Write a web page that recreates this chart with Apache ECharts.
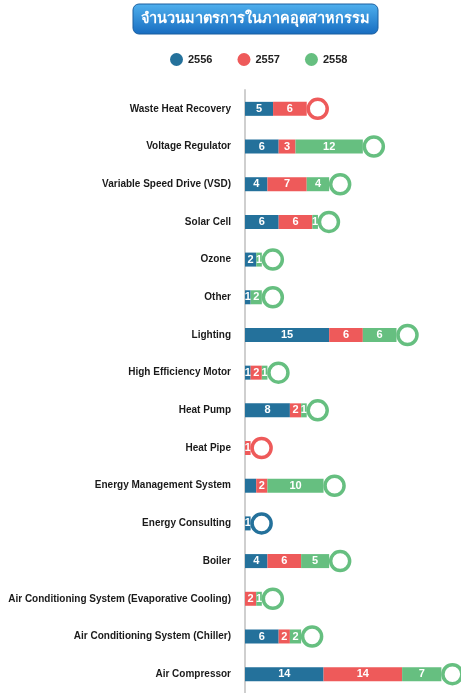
<!DOCTYPE html>
<html>
<head>
<meta charset="utf-8">
<title>จำนวนมาตรการในภาคอุตสาหกรรม</title>
<script src="https://cdn.jsdelivr.net/npm/echarts@6/dist/echarts.min.js"></script>
<style>
  html, body { margin: 0; padding: 0; background: #fff; }
  #chart { width: 461px; height: 693px; }
</style>
</head>
<body>
<div id="chart"></div>
<script>
// categories, top to bottom
var categories = [
  'Waste Heat Recovery',
  'Voltage Regulator',
  'Variable Speed Drive (VSD)',
  'Solar Cell',
  'Ozone',
  'Other',
  'Lighting',
  'High Efficiency Motor',
  'Heat Pump',
  'Heat Pipe',
  'Energy Management System',
  'Energy Consulting',
  'Boiler',
  'Air Conditioning System (Evaporative Cooling)',
  'Air Conditioning System (Chiller)',
  'Air Compressor'
];
var years = ['2556', '2557', '2558'];
var y2556 = [5, 6, 4, 6, 2, 1, 15, 1, 8, 0, 2, 1, 4, 0, 6, 14];
var y2557 = [6, 3, 7, 6, 0, 0, 6, 2, 2, 1, 2, 0, 6, 2, 2, 14];
var y2558 = [0, 12, 4, 1, 1, 2, 6, 1, 1, 0, 10, 0, 5, 1, 2, 7];
// segments drawn without a number in the original
var noLabel2556 = ['Energy Management System'];

var colors = ['#24719b', '#ee5a5a', '#66bf80'];
var seriesData = [y2556, y2557, y2558];

var myChart = echarts.init(document.getElementById('chart'));

function barItems(arr, hide) {
  return arr.map(function (v, i) {
    if (hide && hide.indexOf(categories[i]) >= 0) {
      return { value: v, label: { show: false } };
    }
    return v;
  });
}

// end cap sits after the stack, coloured like the last year that has a value
var caps = categories.map(function (c, i) {
  var total = 0, last = 0;
  seriesData.forEach(function (arr, k) {
    total += arr[i];
    if (arr[i] > 0) last = k;
  });
  return { value: total, itemStyle: { borderColor: colors[last] } };
});

var series = years.map(function (y, k) {
  return {
    name: y,
    type: 'bar',
    stack: 'all',
    barWidth: 14,
    data: barItems(seriesData[k], k === 0 ? noLabel2556 : null),
    itemStyle: { color: colors[k] },
    label: {
      show: true,
      position: 'inside',
      color: '#fff',
      fontSize: 11,
      fontWeight: 'bold',
      fontFamily: 'Liberation Sans',
      formatter: function (p) { return p.value > 0 ? p.value : ''; }
    }
  };
});
series.push({
  type: 'scatter',
  data: caps,
  symbol: 'circle',
  symbolSize: 19,
  symbolOffset: [11, 0],
  z: 5,
  silent: true,
  itemStyle: { color: '#fff', borderWidth: 3.5, opacity: 1 }
});

myChart.setOption({
  animation: false,
  color: colors,
  graphic: [
    {
      type: 'rect',
      shape: { x: 133, y: 4, width: 245, height: 30, r: 6 },
      style: {
        fill: new echarts.graphic.LinearGradient(0, 0, 0, 1, [
          { offset: 0, color: '#4fb0ee' },
          { offset: 1, color: '#176cc0' }
        ]),
        stroke: '#1b5f9f',
        lineWidth: 1
      }
    },
    {
      type: 'text',
      x: 255.5,
      y: 19,
      style: {
        text: 'จำนวนมาตรการในภาคอุตสาหกรรม',
        fill: '#fff',
        font: 'bold 14.5px "Noto Sans", "DejaVu Sans", sans-serif',
        align: 'center',
        verticalAlign: 'middle'
      }
    }
  ],
  legend: {
    data: years,
    top: 48,
    left: 165,
    icon: 'circle',
    itemWidth: 13,
    itemHeight: 13,
    itemGap: 25,
    textStyle: { color: '#222', fontSize: 11, fontWeight: 'bold', fontFamily: 'Liberation Sans' }
  },
  grid: { left: 245, right: 14, top: 90, height: 604, containLabel: false },
  xAxis: {
    type: 'value',
    min: 0,
    max: 36,
    show: false
  },
  yAxis: {
    type: 'category',
    data: categories,
    inverse: true,
    axisLine: { show: true, lineStyle: { color: '#cfcfcf', width: 2 } },
    axisTick: { show: false },
    axisLabel: {
      margin: 14,
      color: '#1a1a1a',
      fontSize: 10,
      fontWeight: 'bold',
      fontFamily: 'Liberation Sans'
    }
  },
  series: series
});
</script>
</body>
</html>
